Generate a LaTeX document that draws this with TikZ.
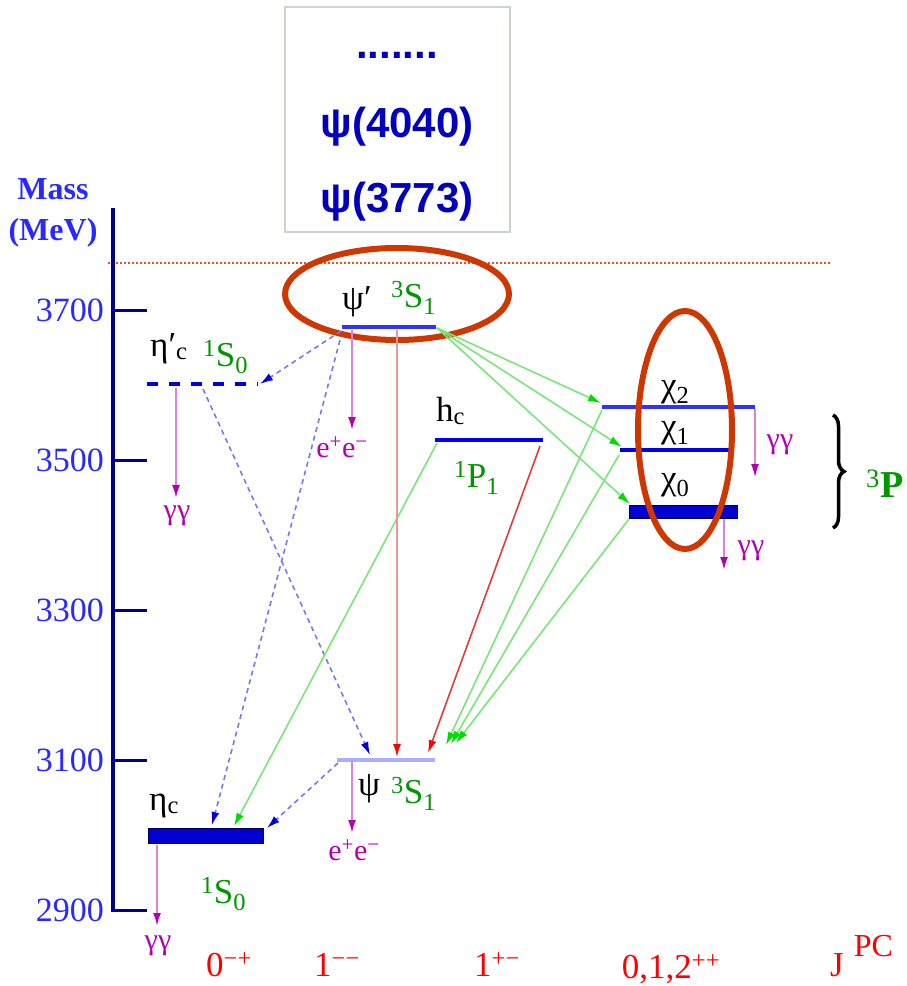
\documentclass[tikz,border=0pt]{standalone}
\usepackage{fontspec}
\setmainfont{Liberation Serif}
\newfontfamily\boxfont{Liberation Sans}
\usetikzlibrary{arrows.meta,decorations.pathreplacing}
\newcommand\fs[1]{\fontsize{#1}{#1}\selectfont}
\definecolor{axisnavy}{RGB}{0,0,140}
\definecolor{ticklab}{RGB}{40,40,255}
\definecolor{boxtext}{RGB}{0,0,190}
\definecolor{boxborder}{RGB}{200,215,200}
\definecolor{ellred}{RGB}{204,56,0}
\definecolor{termgreen}{RGB}{0,150,0}
\definecolor{lvlblue}{RGB}{50,50,255}
\definecolor{lblue}{RGB}{120,120,240}
\definecolor{dblue}{RGB}{0,0,220}
\definecolor{lgreen}{RGB}{120,230,120}
\definecolor{bgreen}{RGB}{0,220,0}
\definecolor{lmag}{RGB}{220,130,220}
\definecolor{dmag}{RGB}{180,0,180}
\definecolor{lred}{RGB}{240,150,150}
\definecolor{mred}{RGB}{225,60,60}
\definecolor{jred}{RGB}{255,0,0}
\definecolor{dotred}{RGB}{230,80,40}
\definecolor{jpsiblue}{RGB}{170,176,255}
\definecolor{bandblue}{RGB}{0,0,210}
\tikzset{
  boxtxt/.style={font=\boxfont\bfseries\fs{42}, text=boxtext, inner sep=0, anchor=base},
  ticklbl/.style={font=\fs{34}, text=ticklab, anchor=east, inner sep=0},
  axlbl/.style={font=\bfseries\fs{32}, text=ticklab, inner sep=0},
  plab/.style={font=\fs{35}, text=black, inner sep=0, anchor=base west},
  term/.style={font=\fs{35}, text=termgreen, inner sep=0, anchor=base west},
  gglab/.style={font=\fs{30}, text=dmag, inner sep=0},
  jpc/.style={font=\fs{35}, text=jred, anchor=base, inner sep=0},
  thinlvl/.style={line width=3.5pt},
  band/.style={fill=bandblue, draw=black!70!blue, line width=1pt},
  bdash/.style={draw=lblue, line width=1.6pt, dash pattern=on 5pt off 4pt, -{Latex[length=13pt,width=8pt,color=dblue]}},
  garr/.style={draw=lgreen, line width=1.6pt, -{Latex[length=13pt,width=8pt,color=bgreen]}},
  marr/.style={draw=lmag, line width=2pt, -{Latex[length=13pt,width=8pt,color=dmag]}},
  rarr/.style={line width=1.6pt, -{Latex[length=13pt,width=8pt,color=jred]}},
  ring/.style={draw=ellred, line width=6pt},
}
\begin{document}
\begin{tikzpicture}[x=1pt,y=-1pt]
\useasboundingbox (0,0) rectangle (906,986);
% top box
\draw[boxborder, line width=2pt] (285,7) rectangle (510,232);
\node[boxtxt] (dots) at (397,58) {.......};
\node[boxtxt] (p4040) at (397,137) {ψ(4040)};
\node[boxtxt] (p3773) at (397,212) {ψ(3773)};
% dotted threshold line
\coordinate (thrL) at (108,263);
\coordinate (thrR) at (830,263);
\draw[dotred, line width=1.2pt, dash pattern=on 1.5pt off 2.5pt] (thrL) -- (thrR);
% axis
\coordinate (axT) at (113,208);
\coordinate (axB) at (113,912);
\draw[axisnavy, line width=4pt] (axT) -- (axB);
\node[axlbl] (mass) at (53,189) {Mass};
\node[axlbl] (mev) at (53,233) {(MeV)};
\foreach \m/\yy in {3700/310,3500/460,3300/610,3100/760,2900/910}{
  \draw[axisnavy, line width=3pt] (113,\yy) -- (147,\yy);
  \node[ticklbl] (t\m) at (104,\yy) {\m};
}
% levels
\coordinate (etaPL) at (147,384); \coordinate (etaPR) at (258,384);
\draw[dblue, line width=4.5pt, dash pattern=on 11pt off 11pt] (etaPL) -- (etaPR);
\coordinate (psiPL) at (342,327); \coordinate (psiPR) at (436,327);
\draw[lvlblue, thinlvl] (psiPL) -- (psiPR);
\coordinate (hcL) at (435,440); \coordinate (hcR) at (543,440);
\draw[blue, line width=4pt] (hcL) -- (hcR);
\coordinate (chi2L) at (602,407); \coordinate (chi2R) at (755,407);
\draw[lvlblue, line width=4pt] (chi2L) -- (chi2R);
\coordinate (chi1L) at (620,450); \coordinate (chi1R) at (730,450);
\draw[blue!90!black, line width=4pt] (chi1L) -- (chi1R);
\node[band, minimum width=108pt, minimum height=13pt, inner sep=0] (chi0) at (683,511.5) {};
\coordinate (jpsiL) at (337,760); \coordinate (jpsiR) at (435,760);
\draw[jpsiblue, thinlvl] (jpsiL) -- (jpsiR);
\node[band, minimum width=115pt, minimum height=15pt, inner sep=0] (etac) at (205.5,836) {};
% labels
\node[plab] (letaP) at (150,356) {η′\textsubscript{c}};
\node[term] (tetaP) at (203,366) {\textsuperscript{1}S\textsubscript{0}};
\node[plab] (lpsiP) at (342,309) {ψ′};
\node[term] (tpsiP) at (391,307) {\textsuperscript{3}S\textsubscript{1}};
\node[plab] (lhc) at (436,421) {h\textsubscript{c}};
\node[term] (thc) at (454,487) {\textsuperscript{1}P\textsubscript{1}};
\node[plab] (lchi2) at (661,396) {χ\textsubscript{2}};
\node[plab] (lchi1) at (661,437) {χ\textsubscript{1}};
\node[plab] (lchi0) at (661,489) {χ\textsubscript{0}};
\node[plab] (letac) at (149,810) {η\textsubscript{c}};
\node[term] (tetac) at (201,903) {\textsuperscript{1}S\textsubscript{0}};
\node[plab] (lpsi) at (358,795) {ψ};
\node[term] (tpsi) at (391,803) {\textsuperscript{3}S\textsubscript{1}};
% ellipses
\draw[ring] (397,294) ellipse [x radius=112pt, y radius=46pt];
\draw[ring] (685,430) ellipse [x radius=47pt, y radius=119pt];
% brace and 3P
\coordinate (brT) at (833,415); \coordinate (brB) at (833,528);
\draw[line width=3.5pt, decorate, decoration={brace, amplitude=11pt}] (brT) -- (brB);
\node[term, font=\fs{38}] (t3P) at (866,497) {\textsuperscript{3}\textbf{P}};
% blue dashed transitions
\coordinate (a1s) at (341,331); \coordinate (a1e) at (260,384);
\draw[bdash] (a1s) -- (a1e);
\coordinate (a2s) at (340,340); \coordinate (a2e) at (212,825);
\draw[bdash] (a2s) -- (a2e);
\coordinate (a3s) at (203,389); \coordinate (a3e) at (370,755);
\draw[bdash] (a3s) -- (a3e);
\coordinate (a4s) at (338,763); \coordinate (a4e) at (267,828);
\draw[bdash] (a4s) -- (a4e);
% green E1 transitions
\coordinate (g0) at (437,328);
\coordinate (g1e) at (601,403);
\coordinate (g2e) at (622,447);
\coordinate (g3e) at (630,504);
\draw[garr] (g0) -- (g1e);
\draw[garr] (g0) -- (g2e);
\draw[garr] (g0) -- (g3e);
\coordinate (g4s) at (437,443); \coordinate (g4e) at (234,826);
\draw[garr] (g4s) -- (g4e);
\coordinate (g5s) at (602,410); \coordinate (g5e) at (446,745);
\coordinate (g6s) at (619,455); \coordinate (g6e) at (451,744);
\coordinate (g7s) at (629,519); \coordinate (g7e) at (456,743);
\draw[garr] (g5s) -- (g5e);
\draw[garr] (g6s) -- (g6e);
\draw[garr] (g7s) -- (g7e);
% red transitions
\coordinate (r1s) at (397,330); \coordinate (r1e) at (397,757);
\draw[rarr, draw=lred] (r1s) -- (r1e);
\coordinate (r2s) at (540,446); \coordinate (r2e) at (428,753);
\draw[rarr, draw=mred] (r2s) -- (r2e);
% magenta decays
\coordinate (m1s) at (176,388); \coordinate (m1e) at (176,498);
\draw[marr] (m1s) -- (m1e);
\node[gglab] (gg1) at (177,516) {γγ};
\coordinate (m2s) at (352,330); \coordinate (m2e) at (352,430);
\draw[marr] (m2s) -- (m2e);
\node[gglab] (ee1) at (342,447) {e\textsuperscript{+}e\textsuperscript{−}};
\coordinate (m3s) at (157,845); \coordinate (m3e) at (157,926);
\draw[marr] (m3s) -- (m3e);
\node[gglab] (gg3) at (158,946) {γγ};
\coordinate (m4s) at (352,761); \coordinate (m4e) at (352,833);
\draw[marr] (m4s) -- (m4e);
\node[gglab] (ee2) at (354,850) {e\textsuperscript{+}e\textsuperscript{−}};
\coordinate (m5s) at (755,409); \coordinate (m5e) at (755,477);
\draw[marr, line width=1.2pt] (m5s) -- (m5e);
\node[gglab] (gg5) at (780,445) {γγ};
\coordinate (m6s) at (724,519); \coordinate (m6e) at (724,570);
\draw[marr] (m6s) -- (m6e);
\node[gglab] (gg6) at (751,551) {γγ};
% J^PC labels
\node[jpc] (j1) at (229,976) {0\textsuperscript{−+}};
\node[jpc] (j2) at (337,976) {1\textsuperscript{−−}};
\node[jpc] (j3) at (497,976) {1\textsuperscript{+−}};
\node[jpc] (j4) at (671,978) {0,1,2\textsuperscript{++}};
\node[jpc, anchor=base west] (j5) at (830,976) {J\hspace{10pt}\raisebox{20pt}{\fs{32}PC}};
\end{tikzpicture}
\end{document}
